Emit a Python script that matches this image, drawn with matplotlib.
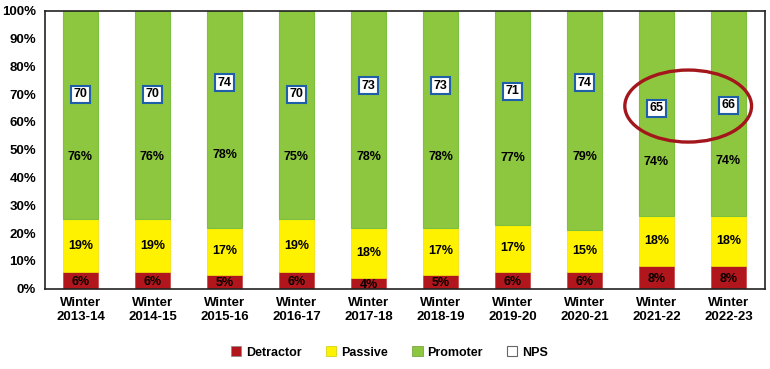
import matplotlib
matplotlib.use("Agg")
import matplotlib.pyplot as plt
from matplotlib.patches import Ellipse, Patch
import numpy as np

plt.rcParams['font.family'] = ['Liberation Sans', 'DejaVu Sans']
plt.rcParams['font.weight'] = 'bold'

seasons = ['Winter\n2013-14', 'Winter\n2014-15', 'Winter\n2015-16', 'Winter\n2016-17',
           'Winter\n2017-18', 'Winter\n2018-19', 'Winter\n2019-20', 'Winter\n2020-21',
           'Winter\n2021-22', 'Winter\n2022-23']
detractor = [6, 6, 5, 6, 4, 5, 6, 6, 8, 8]
passive = [19, 19, 17, 19, 18, 17, 17, 15, 18, 18]
promoter = [76, 76, 78, 75, 78, 78, 77, 79, 74, 74]
nps = [70, 70, 74, 70, 73, 73, 71, 74, 65, 66]

c_det = '#B0161B'
c_pas = '#FFF200'
c_pro = '#8DC63F'

fig = plt.figure(figsize=(7.7, 3.69), dpi=100)
ax = fig.add_axes([44.5 / 770, 80.3 / 369, 720 / 770, 278 / 369])

x = np.arange(len(seasons))
det = np.array(detractor)
pas = np.array(passive)
pro = np.array(promoter)
w = 0.48

ax.bar(x, det, w, color=c_det, edgecolor='#C84040', linewidth=0.5)
ax.bar(x, pas, w, bottom=det, color=c_pas, edgecolor='#F0E000', linewidth=0.5)
ax.bar(x, pro, w, bottom=det + pas, color=c_pro, edgecolor='#7CC040', linewidth=0.8)

fs = 9
for i in range(len(x)):
    ax.text(x[i], det[i] / 2 - 0.5, f'{det[i]}%', ha='center', va='center', fontsize=fs, fontweight='bold')
    ax.text(x[i], det[i] + pas[i] / 2, f'{pas[i]}%', ha='center', va='center', fontsize=fs, fontweight='bold')
    ax.text(x[i], (det[i] + pas[i] + nps[i]) / 2, f'{pro[i]}%', ha='center', va='center',
            fontsize=fs, fontweight='bold')
    ax.text(x[i], nps[i], str(nps[i]), ha='center', va='center', fontsize=fs, fontweight='bold',
            bbox=dict(boxstyle='square,pad=0.2', facecolor='white', edgecolor='#1F5FA8', linewidth=1.5))

ax.add_patch(Ellipse((8.44, 65.7), 1.76, 25.9, fill=False, edgecolor='#A3171C', linewidth=2.4, zorder=5))

ax.set_xlim(-0.5, 9.5)
ax.set_ylim(0, 100)
ax.set_yticks(np.arange(0, 101, 10))
ax.set_yticklabels([f'{v}%' for v in range(0, 101, 10)], fontsize=9.5, fontweight='bold')
ax.set_xticks(x)
ax.set_xticklabels(seasons, fontsize=9.5, fontweight='bold', linespacing=1.25)
ax.tick_params(axis='both', length=0, pad=6)
for s in ax.spines.values():
    s.set_color('#222222')
    s.set_linewidth(1.2)

handles = [Patch(facecolor=c_det, edgecolor='#888888', linewidth=0.5, label='Detractor'),
           Patch(facecolor=c_pas, edgecolor='#CCCC00', linewidth=0.5, label='Passive'),
           Patch(facecolor=c_pro, edgecolor='#6A9A30', linewidth=0.5, label='Promoter'),
           Patch(facecolor='white', edgecolor='#666666', linewidth=0.8, label='NPS')]
fig.legend(handles=handles, loc='center', bbox_to_anchor=(0.506, 0.045), ncol=4, frameon=False,
           fontsize=9, handlelength=0.85, handleheight=0.85, handletextpad=0.4, columnspacing=1.9)

fig.savefig('out.png', dpi=100)
